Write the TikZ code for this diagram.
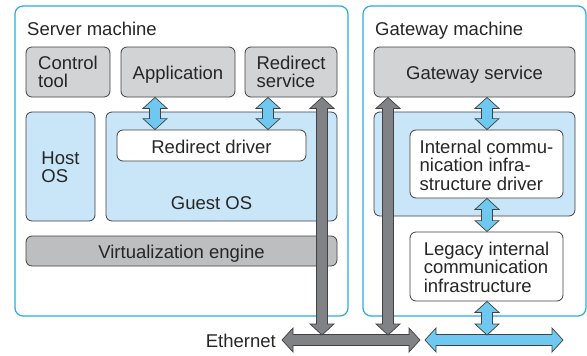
\documentclass[tikz,border=0pt]{standalone}
\usepackage{fontspec}
\setmainfont{Liberation Sans}
\usetikzlibrary{calc}
\definecolor{framecyan}{RGB}{41,171,226}
\definecolor{boxgray}{RGB}{209,211,212}
\definecolor{darkboxgray}{RGB}{188,190,192}
\definecolor{lightblue}{RGB}{200,230,247}
\definecolor{arrowblue}{RGB}{110,200,240}
\definecolor{arrowgray}{RGB}{128,130,133}
\definecolor{edgegray}{RGB}{65,64,66}
\newcommand\vdarr[4]{\filldraw[#1] let \p1=(#3), \p2=(#4) in
 (#2pt,\y1) -- ++(12pt,-11pt) -- ++(-6.5pt,0pt) -- (#2pt+5.5pt,\y2+11pt) -- ++(6.5pt,0pt) -- (#2pt,\y2)
 -- ++(-12pt,11pt) -- ++(6.5pt,0pt) -- (#2pt-5.5pt,\y1-11pt) -- ++(-6.5pt,0pt) -- cycle;}
\newcommand\hdarr[3]{\filldraw[#1] let \p1=(#2), \p2=(#3) in
 (\x1,\y1) -- ++(11pt,12pt) -- ++(0pt,-6.5pt) -- (\x2-11pt,\y1+5.5pt) -- ++(0pt,6.5pt) -- (\x2,\y1)
 -- ++(-11pt,-12pt) -- ++(0pt,6.5pt) -- (\x1+11pt,\y1-5.5pt) -- ++(0pt,-6.5pt) -- cycle;}
\begin{document}
\begin{tikzpicture}[x=1pt,y=-1pt,
  every node/.style={font=\fontsize{18.5}{18.5}\selectfont, text=black!85, inner sep=0pt},
  frame/.style={draw=framecyan, line width=1.2pt, rounded corners=8pt},
  graybox/.style={draw=edgegray, line width=0.8pt, fill=boxgray, rounded corners=6pt},
  vebox/.style={graybox, fill=darkboxgray},
  bluebox/.style={draw=edgegray, line width=0.8pt, fill=lightblue, rounded corners=6pt},
  whitebox/.style={draw=edgegray, line width=0.8pt, fill=white, rounded corners=6pt},
  bluearr/.style={fill=arrowblue, draw=edgegray, line width=0.7pt, line join=miter},
  grayarr/.style={fill=arrowgray, draw=edgegray, line width=0.7pt, line join=miter}]
\useasboundingbox (0,0) rectangle (587,356);
% frames
\node[frame, minimum width=333pt, minimum height=310pt] (srv) at (181.5,161) {};
\node[frame, minimum width=223pt, minimum height=310pt] (gw) at (474.5,161) {};
\node[anchor=base west] (srvlbl) at (27,35) {Server machine};
\node[anchor=base west] (gwlbl) at (375,35) {Gateway machine};
% server boxes
\node[graybox, minimum width=84pt, minimum height=50pt] (ctrl) at (68,72) {};
\node[align=left] (ctrltxt) at (68,72) {Control\\tool};
\node[graybox, minimum width=114pt, minimum height=50pt] (app) at (178,72) {};
\node[anchor=base] (apptxt) at (178,79) {Application};
\node[graybox, minimum width=92pt, minimum height=50pt] (redir) at (291,72) {};
\node[align=left] (redirtxt) at (291,72) {Redirect\\service};
\node[bluebox, minimum width=69pt, minimum height=109pt] (host) at (60.5,166.5) {};
\node[align=left] (hosttxt) at (60.5,167) {Host\\OS};
\node[bluebox, minimum width=231pt, minimum height=109pt] (guest) at (221.5,166.5) {};
\node[anchor=base] (guesttxt) at (211.5,209) {Guest OS};
\node[whitebox, minimum width=189pt, minimum height=31pt] (drv) at (211.5,145.5) {};
\node[anchor=base] (drvtxt) at (211.5,153) {Redirect driver};
\node[vebox, minimum width=311pt, minimum height=30pt] (virt) at (181.5,251) {};
\node[anchor=base] (virttxt) at (181.5,258) {Virtualization engine};
% gateway boxes
\node[graybox, minimum width=201pt, minimum height=50pt] (gws) at (474.5,72) {};
\node[anchor=base] (gwstxt) at (474.5,79) {Gateway service};
\node[bluebox, minimum width=201pt, minimum height=104pt] (gwos) at (474.5,164) {};
\node[whitebox, minimum width=153pt, minimum height=68pt] (icd) at (486.5,164) {};
\node[align=left] (icdtxt) at (486.5,165) {Internal commu-\\nication infra-\\structure driver};
\node[whitebox, minimum width=153pt, minimum height=69pt] (leg) at (486.5,266.5) {};
\node[align=left] (legtxt) at (486.5,267) {Legacy internal\\communication\\infrastructure};
% ethernet
\coordinate (ethL) at (282,340);
\coordinate (ethR) at (420,340);
\coordinate (busL) at (425,340);
\coordinate (busR) at (563,340);
\coordinate (ethtop) at (400,335);
\node[anchor=base east] (ethtxt) at (276,347) {Ethernet};
\hdarr{grayarr}{ethL}{ethR}
\hdarr{bluearr}{busL}{busR}
% blue arrows
\vdarr{bluearr}{155}{app.south}{drv.north}
\vdarr{bluearr}{268}{redir.south}{drv.north}
\vdarr{bluearr}{487}{gws.south}{icd.north}
\vdarr{bluearr}{487}{icd.south}{leg.north}
\vdarr{bluearr}{487}{leg.south}{ethtop}
% gray arrows
\vdarr{grayarr}{322}{redir.south}{ethtop}
\vdarr{grayarr}{388}{gws.south}{ethtop}
\end{tikzpicture}
\end{document}
